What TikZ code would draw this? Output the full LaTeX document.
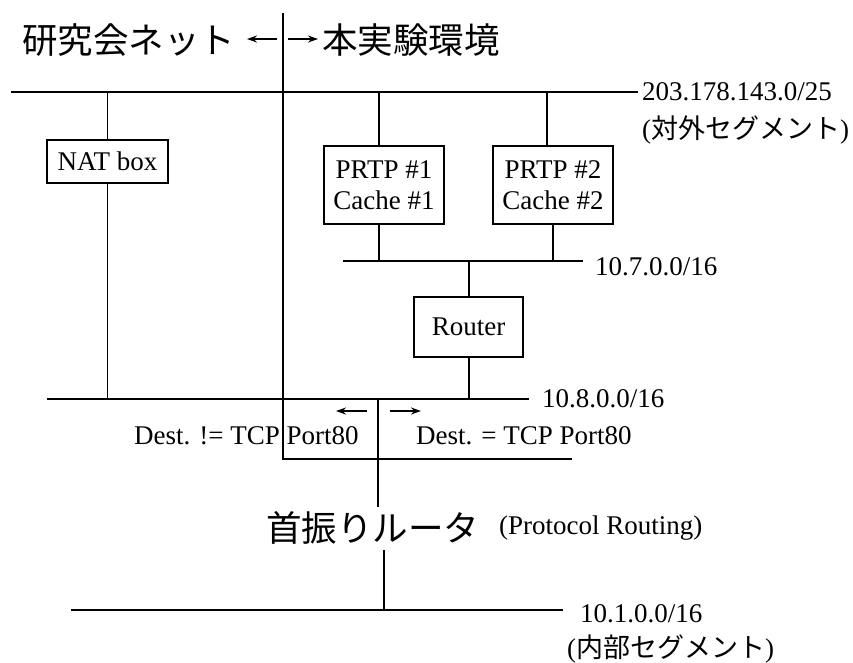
\documentclass[tikz,border=0pt]{standalone}
\usepackage{fontspec}
\setmainfont{Liberation Serif}
\newfontfamily\jp{Noto Sans CJK JP}
\usetikzlibrary{arrows.meta}
\newcommand\labfont{\fontsize{27}{31}\selectfont}
\newcommand\bigjp{\jp\fontsize{35.5}{40}\selectfont}
\begin{document}
\begin{tikzpicture}[x=1pt,y=-1pt,
  wire/.style={line width=1.8pt},
  box/.style={draw,line width=1.8pt,inner sep=0pt,align=center,font=\labfont},
  lbl/.style={inner sep=0pt,font=\labfont,anchor=base west},
  big/.style={inner sep=0pt,font=\bigjp,anchor=west},
  arr/.style={line width=1.8pt,-{Stealth[length=10pt,width=7pt]}}]
\useasboundingbox (0,0) rectangle (853,662);
\fill[white] (0,0) rectangle (853,662);

% title
\node[big] (tl) at (22,40) {研究会ネット};
\node[big] (tr) at (322,40) {本実験環境};
\coordinate (a1s) at (277,39); \coordinate (a1e) at (247,39);
\coordinate (a2s) at (288,39); \coordinate (a2e) at (318,39);
\draw[arr] (a1s) -- (a1e);
\draw[arr] (a2s) -- (a2e);

% boxes
\node[box,minimum width=121pt,minimum height=43pt] (nat) at (107.5,161.5) {NAT box};
\node[box,minimum width=120pt,minimum height=78pt] (p1) at (384,185) {PRTP \#1\\Cache \#1};
\node[box,minimum width=120pt,minimum height=78pt] (p2) at (553,185) {PRTP \#2\\Cache \#2};
\node[box,minimum width=109pt,minimum height=60pt] (rt) at (468.5,327) {Router};

% buses
\coordinate (topL) at (11,92);  \coordinate (topR) at (638,92);
\coordinate (b7L) at (343,261); \coordinate (b7R) at (583,261);
\coordinate (b8L) at (47,399);  \coordinate (b8R) at (529,399);
\coordinate (b1L) at (71,610);  \coordinate (b1R) at (563,610);
\draw[wire] (topL) -- (topR);
\draw[wire] (b7L) -- (b7R);
\draw[wire] (b8L) -- (b8R);
\draw[wire] (b1L) -- (b1R);

% taps
\coordinate (natT) at (107.5,92); \coordinate (natB) at (107.5,399);
\draw[wire] (natT) -- (nat.north);
\draw[wire] (nat.south) -- (natB);
\coordinate (p1T) at (379,92); \coordinate (p1B) at (379,261);
\draw[wire] (p1T) -- (p1T |- p1.north);
\draw[wire] (p1B |- p1.south) -- (p1B);
\coordinate (p2T) at (547,92); \coordinate (p2B) at (553,261);
\draw[wire] (p2T) -- (p2T |- p2.north);
\draw[wire] (p2B |- p2.south) -- (p2B);
\coordinate (rtT) at (469,261); \coordinate (rtB) at (469,399);
\draw[wire] (rtT) -- (rtT |- rt.north);
\draw[wire] (rtB |- rt.south) -- (rtB);

% separator
\coordinate (sT) at (283,13); \coordinate (sC) at (283,459); \coordinate (sR) at (572,459);
\draw[wire] (sT) -- (sC) -- (sR);

% protocol router
\coordinate (cT) at (378,399); \coordinate (cB) at (378,507);
\draw[wire] (cT) -- (cB);
\node[big] (fr) at (266,528) {首振りルータ};
\node[lbl] (pr) at (499,534) {(Protocol Routing)};
\coordinate (fT) at (384,550); \coordinate (fB) at (384,610);
\draw[wire] (fT) -- (fB);

% direction arrows
\coordinate (d1s) at (367,411); \coordinate (d1e) at (336,411);
\coordinate (d2s) at (390,411); \coordinate (d2e) at (421,411);
\draw[arr] (d1s) -- (d1e);
\draw[arr] (d2s) -- (d2e);
\node[lbl] (dl) at (134,444) {Dest. != TCP Port80};
\node[lbl] (dr) at (416,444) {Dest. = TCP Port80};

% segment labels
\node[lbl] (l203) at (642,100) {203.178.143.0/25};
\node[lbl] (l203b) at (642,138) {({\jp 対外セグメント})};
\node[lbl] (l107) at (595,275) {10.7.0.0/16};
\node[lbl] (l108) at (542,407) {10.8.0.0/16};
\node[lbl] (l101) at (580,622) {10.1.0.0/16};
\node[lbl] (l101b) at (567,657) {({\jp 内部セグメント})};
\end{tikzpicture}
\end{document}
